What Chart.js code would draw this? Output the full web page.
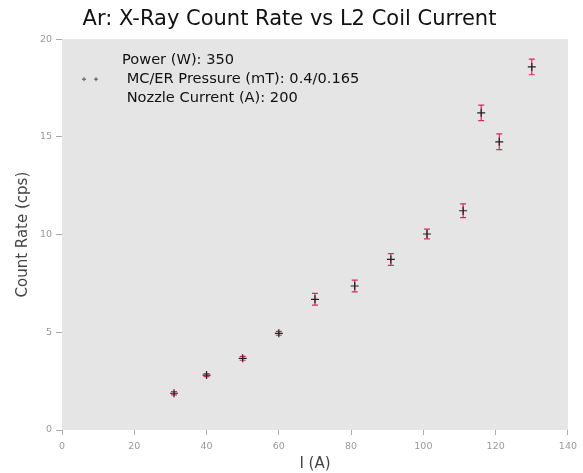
<!DOCTYPE html>
<html>
<head>
<meta charset="utf-8">
<script src="https://cdn.jsdelivr.net/npm/chart.js@4.4.0/dist/chart.umd.min.js"></script>
<style>
  html, body { margin: 0; padding: 0; background: #fff; }
  #wrap { width: 583px; height: 473px; }
</style>
</head>
<body>
<div id="wrap"><canvas id="myChart" width="583" height="473"></canvas></div>
<script>
// coil current (A)
var corriente = [31, 40, 50, 60, 70, 81, 91, 101, 111, 116, 121, 130];
// count rate (cps)
var cuentas = [1.88, 2.81, 3.67, 4.95, 6.69, 7.37, 8.73, 10.03, 11.22, 16.23, 14.75, 18.58];
// error on count rate
var errCuentas = [0.08, 0.08, 0.1, 0.1, 0.3, 0.3, 0.3, 0.25, 0.35, 0.4, 0.4, 0.4];
var xTicks = [0, 20, 40, 60, 80, 100, 120, 140];
var yTicks = [0, 5, 10, 15, 20];
var leyenda = ["Power (W): 350", " MC/ER Pressure (mT): 0.4/0.165", " Nozzle Current (A): 200"];

var colorErr = "rgb(220,40,90)";
var fuente = "'DejaVu Sans', Verdana, sans-serif";

var puntos = [];
for (var i = 0; i < corriente.length; i++) {
	puntos.push({ x: corriente[i], y: cuentas[i] });
}

/* fondo gris del area de dibujo */
var fondoPlugin = {
	id: 'fondo',
	beforeDraw: function(chart) {
		var a = chart.chartArea, ctx = chart.ctx;
		ctx.save();
		ctx.fillStyle = "#e5e5e5";
		ctx.fillRect(a.left, a.top, a.right - a.left, a.bottom - a.top);
		ctx.restore();
	}
};

/* barras de error */
var errorPlugin = {
	id: 'errores',
	beforeDatasetsDraw: function(chart) {
		var ctx = chart.ctx, xs = chart.scales.x, ys = chart.scales.y;
		ctx.save();
		ctx.strokeStyle = colorErr;
		ctx.lineWidth = 1.2;
		for (var i = 0; i < corriente.length; i++) {
			var px = xs.getPixelForValue(corriente[i]);
			var y1 = ys.getPixelForValue(cuentas[i] - errCuentas[i]);
			var y2 = ys.getPixelForValue(cuentas[i] + errCuentas[i]);
			ctx.beginPath();
			ctx.moveTo(px, y1); ctx.lineTo(px, y2);
			ctx.moveTo(px - 3, y1); ctx.lineTo(px + 3, y1);
			ctx.moveTo(px - 3, y2); ctx.lineTo(px + 3, y2);
			ctx.stroke();
		}
		ctx.restore();
	}
};

/* leyenda de varias lineas */
var leyendaPlugin = {
	id: 'leyendaMulti',
	afterDraw: function(chart) {
		var ctx = chart.ctx, a = chart.chartArea;
		ctx.save();
		var yMid = a.top + 40;
		// simbolo
		ctx.strokeStyle = "#555";
		ctx.lineWidth = 1;
		[84, 96].forEach(function(px) {
			ctx.beginPath();
			ctx.moveTo(px - 2, yMid); ctx.lineTo(px + 2, yMid);
			ctx.moveTo(px, yMid - 2); ctx.lineTo(px, yMid + 2);
			ctx.stroke();
		});
		ctx.fillStyle = "#111";
		ctx.font = "14.6px " + fuente;
		ctx.textBaseline = "middle";
		ctx.textAlign = "left";
		for (var i = 0; i < leyenda.length; i++) {
			ctx.fillText(leyenda[i], 122, yMid + (i - 1) * 19);
		}
		ctx.restore();
	}
};

var ctx = document.getElementById("myChart").getContext("2d");
var grafico = new Chart(ctx, {
	type: 'scatter',
	data: {
		datasets: [{
			label: leyenda.join("\n"),
			data: puntos,
			pointStyle: 'cross',
			pointRadius: 4,
			pointBorderWidth: 1.2,
			borderColor: "#222",
			backgroundColor: "#222"
		}]
	},
	options: {
		animation: false,
		responsive: false,
		layout: { padding: { left: 10, right: 14, top: 0, bottom: 0 } },
		plugins: {
			legend: { display: false },
			tooltip: { enabled: false },
			title: {
				display: true,
				text: "Ar: X-Ray Count Rate vs L2 Coil Current",
				color: "#111",
				font: { family: fuente, size: 21, weight: 'normal' },
				padding: { top: 7, bottom: 7 }
			}
		},
		scales: {
			x: {
				type: 'linear',
				min: 0, max: 140,
				afterBuildTicks: function(s) { s.ticks = xTicks.map(function(v) { return { value: v }; }); },
				afterFit: function(s) { s.height = 43; },
				grid: { display: true, drawOnChartArea: false, tickLength: 5, color: "#aaa" },
				border: { display: false },
				ticks: { color: "#999", font: { family: fuente, size: 9.5 }, padding: 6 },
				title: { display: true, text: "I (A)", color: "#444", font: { family: fuente, size: 15 }, padding: { top: 2, bottom: 0 } }
			},
			y: {
				type: 'linear',
				min: 0, max: 20,
				afterBuildTicks: function(s) { s.ticks = yTicks.map(function(v) { return { value: v }; }); },
				afterFit: function(s) { s.width = 52; },
				grid: { display: true, drawOnChartArea: false, tickLength: 6, color: "#aaa" },
				border: { display: false },
				ticks: { color: "#999", font: { family: fuente, size: 9.5 }, padding: 4 },
				title: { display: true, text: "Count Rate (cps)", color: "#444", font: { family: fuente, size: 15 }, padding: { bottom: 6 } }
			}
		}
	},
	plugins: [fondoPlugin, errorPlugin, leyendaPlugin]
});
</script>
</body>
</html>
